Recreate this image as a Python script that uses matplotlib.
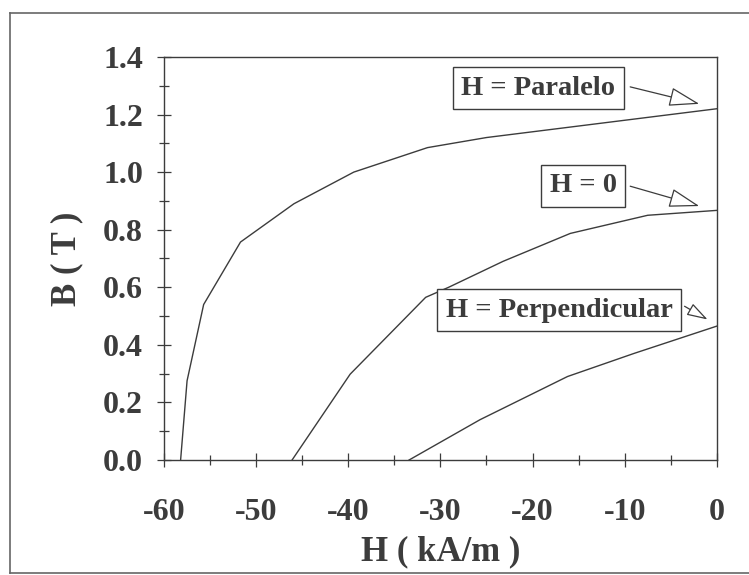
import matplotlib.pyplot as plt
from matplotlib.lines import Line2D
from matplotlib.ticker import MultipleLocator

# B-H demagnetisation curves
h_paralelo = [-58.2, -57.5, -55.7, -51.7, -45.9, -39.4, -31.4, -25.0, -20.0, -10.0, 0.0]
b_paralelo = [0.0, 0.275, 0.54, 0.757, 0.89, 1.0, 1.085, 1.12, 1.14, 1.18, 1.22]

h_zero = [-46.1, -39.8, -31.6, -29.1, -23.2, -15.9, -7.5, 0.0]
b_zero = [0.0, 0.298, 0.565, 0.6, 0.69, 0.787, 0.85, 0.867]

h_perp = [-33.4, -25.7, -16.2, -9.0, 0.0]
b_perp = [0.0, 0.14, 0.29, 0.37, 0.465]

labels = ["H = Paralelo", "H = 0", "H = Perpendicular"]
label_pos = [(-19.4, 1.291), (-14.5, 0.952), (-17.1, 0.52)]
arrow_tail = [(-9.4, 1.296), (-9.4, 0.951), (-3.5, 0.534)]
arrow_tip = [(-1.9, 1.237), (-1.9, 0.882), (-1.0, 0.488)]
head_scale = [12, 12, 8]

ink = "#3c3c3c"
plt.rcParams["font.family"] = ["Liberation Serif", "DejaVu Serif"]
plt.rcParams["font.weight"] = "bold"

fig = plt.figure(figsize=(7.49, 5.75), dpi=100)
ax = fig.add_axes([0.219, 0.2, 0.738, 0.701])

for h, b in [(h_paralelo, b_paralelo), (h_zero, b_zero), (h_perp, b_perp)]:
    ax.plot(h, b, color=ink, lw=1.0)

for text, pos, tail, tip, hs in zip(labels, label_pos, arrow_tail, arrow_tip, head_scale):
    ax.text(*pos, text, ha="center", va="center", fontsize=20.5, color=ink,
            fontweight="bold",
            bbox=dict(boxstyle="square,pad=0.3", fc="white", ec=ink, lw=1.0))
    ax.annotate("", xy=tip, xytext=tail,
                arrowprops=dict(arrowstyle="-|>,head_length=1.6,head_width=0.5",
                                mutation_scale=hs, fc="white", ec=ink, lw=0.9,
                                shrinkA=0, shrinkB=0))

ax.set_xlim(-60, 0)
ax.set_ylim(0, 1.4)
ax.xaxis.set_major_locator(MultipleLocator(10))
ax.xaxis.set_minor_locator(MultipleLocator(5))
ax.yaxis.set_major_locator(MultipleLocator(0.2))
ax.yaxis.set_minor_locator(MultipleLocator(0.1))
ax.xaxis.set_major_formatter(plt.FuncFormatter(lambda v, p: f"{v:.0f}"))
ax.yaxis.set_major_formatter(plt.FuncFormatter(lambda v, p: f"{v:.1f}"))
ax.tick_params(which="major", direction="inout", length=10, width=0.9, color=ink,
               labelsize=23, labelcolor=ink)
ax.tick_params(which="minor", direction="inout", length=7, width=0.9, color=ink)
ax.tick_params(axis="x", which="major", pad=22)
ax.tick_params(axis="y", which="major", pad=10)
for s in ax.spines.values():
    s.set_color(ink)
    s.set_linewidth(1.0)

ax.set_xlabel("H ( kA/m )", fontsize=25, color=ink, fontweight="bold", labelpad=6)
ax.set_ylabel("B ( T )", fontsize=25, color=ink, fontweight="bold", labelpad=14)

# outer frame of the figure
fx0, fy0, fy1 = 10 / 749, 2 / 575, 562 / 575
fig.add_artist(Line2D([fx0, fx0], [fy0, fy1], color="#666666", lw=1.2))
fig.add_artist(Line2D([fx0, 1.0], [fy1, fy1], color="#666666", lw=1.2))
fig.add_artist(Line2D([fx0, 1.0], [fy0, fy0], color="#666666", lw=1.2))

fig.savefig("out.png", dpi=100)
